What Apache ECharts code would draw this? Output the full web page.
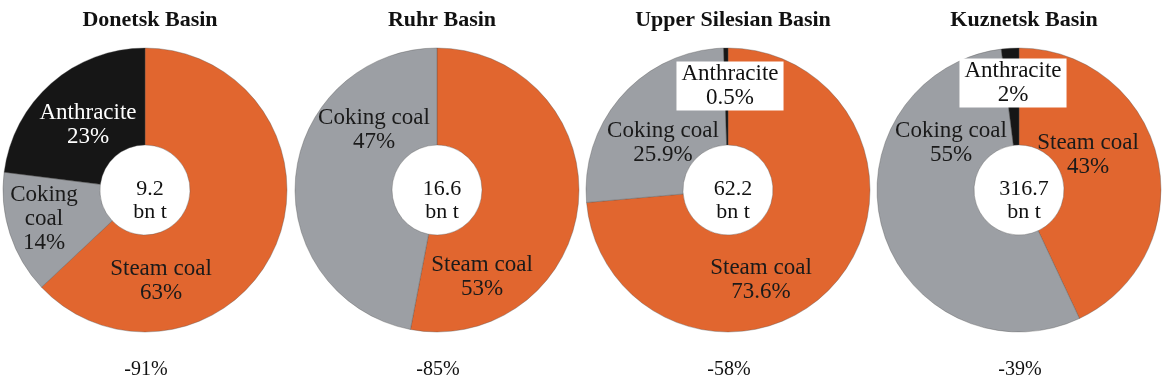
<!DOCTYPE html>
<html>
<head>
<meta charset="utf-8">
<style>
  html, body { margin: 0; padding: 0; background: #fff; }
  #chart { width: 1163px; height: 382px; }
</style>
<script src="https://cdn.jsdelivr.net/npm/echarts@6/dist/echarts.min.js"></script>
</head>
<body>
<div id="chart"></div>
<script>
  // data
  const basins = ['Donetsk Basin', 'Ruhr Basin', 'Upper Silesian Basin', 'Kuznetsk Basin']
  const reserves = ['9.2', '16.6', '62.2', '316.7']
  const changes = ['-91%', '-85%', '-58%', '-39%']
  const coalTypes = ['Steam coal', 'Coking coal', 'Anthracite']
  const steamCoal = [63, 53, 73.6, 43]
  const cokingCoal = [14, 47, 25.9, 55]
  const anthracite = [23, 0, 0.5, 2]

  // layout (pixels)
  const centers = [[145, 190], [437, 190], [728, 190], [1019, 190]]
  const outerR = 142
  const innerR = 45
  // label centres, offset from pie centre
  const labelOffsets = [
    {'Steam coal': [16, 91], 'Coking coal': [-101, 29], 'Anthracite': [-57, -65]},
    {'Steam coal': [45, 87], 'Coking coal': [-63, -60]},
    {'Steam coal': [33, 90], 'Coking coal': [-65, -47], 'Anthracite': [2, -104]},
    {'Steam coal': [69, -35], 'Coking coal': [-68, -47], 'Anthracite': [-6, -107]}
  ]
  const colors = {'Steam coal': '#e1662f', 'Coking coal': '#9c9fa4', 'Anthracite': '#161616'}
  const serif = '"Liberation Serif", "Times New Roman", serif'

  function labelText(i, name, value) {
    let n = name
    if (i === 0 && name === 'Coking coal') n = 'Coking\ncoal'
    return n + '\n' + value + '%'
  }

  let series = []
  let titles = []
  basins.forEach((b, i) => {
    let values = [steamCoal[i], cokingCoal[i], anthracite[i]]
    let data = []
    coalTypes.forEach((t, k) => {
      if (values[k] <= 0) return
      let item = {name: t, value: values[k], itemStyle: {color: colors[t]}}
      if (t === 'Anthracite') {
        item.label = i === 0
          ? {color: '#fff'}
          : {color: '#111', backgroundColor: '#fff', padding: [1, 5, 0, 5]}
      }
      data.push(item)
    })
    series.push({
      type: 'pie',
      center: centers[i],
      radius: [innerR, outerR],
      startAngle: 90,
      clockwise: true,
      avoidLabelOverlap: false,
      silent: true,
      itemStyle: {borderColor: 'rgba(80,80,80,0.35)', borderWidth: 1},
      label: {
        show: true,
        position: 'inside',
        color: '#1a1a1a',
        fontFamily: serif,
        fontSize: 23,
        lineHeight: 24,
        align: 'center',
        verticalAlign: 'middle',
        formatter: (p) => labelText(i, p.name, p.value)
      },
      labelLine: {show: false},
      labelLayout: (p) => {
        let off = labelOffsets[i][data[p.dataIndex].name]
        return {x: centers[i][0] + off[0], y: centers[i][1] + off[1]}
      },
      data: data
    })
    titles.push({
      text: b,
      left: centers[i][0],
      top: 4,
      textAlign: 'center',
      textStyle: {fontFamily: serif, fontWeight: 'bold', fontSize: 22, color: '#111'}
    })
    titles.push({
      text: reserves[i] + '\nbn t',
      left: centers[i][0],
      top: centers[i][1] - 17,
      textAlign: 'center',
      textStyle: {fontFamily: serif, fontWeight: 'normal', fontSize: 22, lineHeight: 23, color: '#111'}
    })
    titles.push({
      text: changes[i],
      left: centers[i][0] - 4,
      top: 355,
      textAlign: 'center',
      textStyle: {fontFamily: serif, fontWeight: 'normal', fontSize: 20, color: '#111'}
    })
  })

  const myChart = echarts.init(document.getElementById('chart'))
  myChart.setOption({
    animation: false,
    backgroundColor: '#fff',
    title: titles,
    series: series
  })
</script>
</body>
</html>
